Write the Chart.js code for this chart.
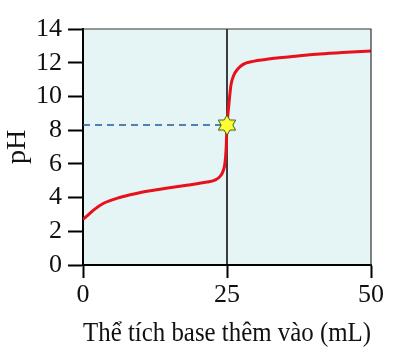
<!DOCTYPE html>
<html><head><meta charset="utf-8">
<script src="https://cdn.jsdelivr.net/npm/chart.js@4"></script>
<style>html,body{margin:0;padding:0;background:#fff}#c{display:block}</style>
</head><body>
<canvas id="c" width="400" height="358"></canvas>
<script>
const volume = [0, 1, 2, 3.5, 5, 6, 8, 10, 12.8, 15, 18, 21.5, 23, 23.8, 24.3, 24.65, 24.85, 25, 25.2, 25.4, 25.7, 26.1, 26.8, 27.8, 29.5, 31.9, 36, 40.5, 45, 50];
const pH =     [2.7, 3.0, 3.3, 3.65, 3.85, 3.97, 4.15, 4.3, 4.46, 4.58, 4.73, 4.92, 5.05, 5.26, 5.55, 6.05, 6.9, 8.3, 9.1, 9.8, 10.7, 11.2, 11.6, 11.9, 12.08, 12.2, 12.35, 12.5, 12.6, 12.7];
const equivVolume = 25;
const equivPH = 8.3;
const xTicks = [0, 25, 50];
const yTicks = [0, 2, 4, 6, 8, 10, 12, 14];
const xTitle = 'Thể tích base thêm vào (mL)';
const yTitle = 'pH';

const FONT = "'Liberation Serif','Times New Roman',serif";

function makeStar() {
  const c = document.createElement('canvas');
  c.width = 22; c.height = 22;
  const g = c.getContext('2d');
  g.beginPath();
  const cx = 11, cy = 11, R = 10, r = 5.8;
  for (let i = 0; i < 12; i++) {
    const a = -Math.PI / 2 + i * Math.PI / 6;
    const rad = i % 2 === 0 ? R : r;
    const px = cx + rad * Math.cos(a), py = cy + rad * Math.sin(a);
    i === 0 ? g.moveTo(px, py) : g.lineTo(px, py);
  }
  g.closePath();
  g.fillStyle = '#ffff33';
  g.fill();
  g.lineWidth = 1;
  g.strokeStyle = '#3a5a1a';
  g.stroke();
  return c;
}

const bgPlugin = {
  id: 'bg',
  beforeDraw(chart) {
    const {ctx, chartArea: a} = chart;
    ctx.save();
    ctx.fillStyle = '#e5f5f5';
    ctx.fillRect(a.left, a.top, a.right - a.left, a.bottom - a.top);
    ctx.restore();
  },
  afterDatasetsDraw(chart) {
    const {ctx, chartArea: a} = chart;
    ctx.save();
    ctx.strokeStyle = '#333';
    ctx.lineWidth = 1.2;
    ctx.beginPath();
    ctx.moveTo(a.left, a.top);
    ctx.lineTo(a.right, a.top);
    ctx.lineTo(a.right, a.bottom);
    ctx.stroke();
    ctx.restore();
  }
};

new Chart(document.getElementById('c'), {
  type: 'scatter',
  data: {
    datasets: [
      {
        data: [{x: equivVolume, y: 0}, {x: equivVolume, y: 14}],
        showLine: true, borderColor: '#000', borderWidth: 1.5, pointRadius: 0, order: 3
      },
      {
        data: [{x: 0, y: equivPH}, {x: equivVolume, y: equivPH}],
        showLine: true, borderColor: '#1f5a96', borderWidth: 1.5, borderDash: [7, 5], pointRadius: 0, order: 2
      },
      {
        data: volume.map((v, i) => ({x: v, y: pH[i]})),
        showLine: true, borderColor: '#e8101a', borderWidth: 3, pointRadius: 0, tension: 0.4,
        cubicInterpolationMode: 'monotone', order: 1
      },
      {
        data: [{x: equivVolume, y: equivPH}],
        pointStyle: makeStar(), pointRadius: 10, order: 0
      }
    ]
  },
  options: {
    responsive: false,
    animation: false,
    layout: {padding: {top: 29, right: 29, left: 0, bottom: 0}},
    plugins: {legend: {display: false}, tooltip: {enabled: false}},
    scales: {
      x: {
        type: 'linear', min: 0, max: 50,
        afterBuildTicks: s => { s.ticks = xTicks.map(v => ({value: v})); },
        afterFit: s => { s.height = 93; },
        grid: {drawOnChartArea: false, drawTicks: true, tickLength: 13, tickColor: '#000', tickWidth: 2},
        border: {color: '#000', width: 2},
        ticks: {color: '#111', font: {family: FONT, size: 26}, padding: 2, maxRotation: 0, autoSkip: false},
        title: {display: true, text: xTitle, color: '#111', font: {family: FONT, size: 28}, padding: {top: 0, bottom: 8}}
      },
      y: {
        type: 'linear', min: 0, max: 14,
        afterBuildTicks: s => { s.ticks = yTicks.map(v => ({value: v})); },
        afterFit: s => { s.width = 83; },
        grid: {drawOnChartArea: false, drawTicks: true, tickLength: 15, tickColor: '#000', tickWidth: 2},
        border: {color: '#000', width: 2},
        ticks: {color: '#111', font: {family: FONT, size: 26}, padding: 6, autoSkip: false},
        title: {display: true, text: yTitle, color: '#111', font: {family: FONT, size: 28}, padding: {top: 1, bottom: 0}}
      }
    }
  },
  plugins: [bgPlugin]
});
</script>
</body></html>
